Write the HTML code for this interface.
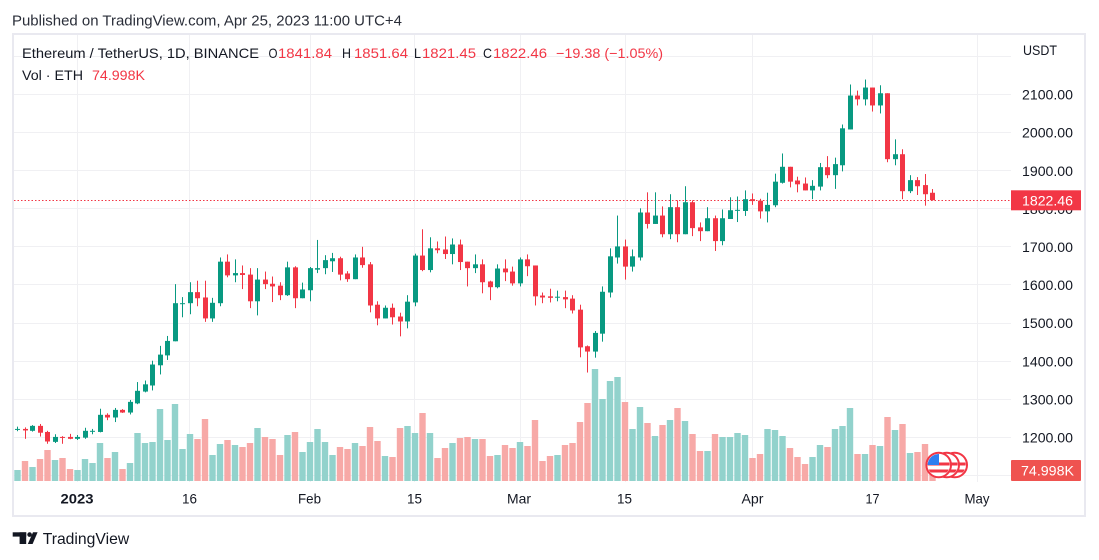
<!DOCTYPE html>
<html><head><meta charset="utf-8">
<style>
html,body{margin:0;padding:0;background:#fff;width:1099px;height:560px;overflow:hidden}
svg{display:block;font-family:"Liberation Sans",sans-serif}
</style></head>
<body>
<svg id="s" width="1099" height="560" viewBox="0 0 1099 560" xmlns="http://www.w3.org/2000/svg">
<defs>
  <clipPath id="pane"><rect x="14" y="35" width="997" height="447"/></clipPath>
  <clipPath id="fc1"><circle cx="954.7" cy="465" r="11"/></clipPath>
  <clipPath id="fc2"><circle cx="946.7" cy="465" r="11"/></clipPath>
  <clipPath id="fc3"><circle cx="938.7" cy="465" r="11"/></clipPath>
</defs>
<rect width="1099" height="560" fill="#fff"/>
<text x="12" y="25.5" font-size="15" fill="#2a2e39" textLength="390" lengthAdjust="spacingAndGlyphs">Published on TradingView.com, Apr 25, 2023 11:00 UTC+4</text>

<g id="grid" stroke="#f0f0f3" stroke-width="1" fill="none"></g>
<g id="vol" clip-path="url(#pane)"></g>
<line x1="14" y1="200.5" x2="1011" y2="200.5" stroke="#f23645" stroke-width="1" stroke-dasharray="1.5 2"/>
<g id="cdl" clip-path="url(#pane)"></g>

<!-- legend -->
<g font-size="14">
  <text x="22" y="58" fill="#131722" textLength="237" lengthAdjust="spacingAndGlyphs">Ethereum / TetherUS, 1D, BINANCE</text>
  <text x="268.5" y="58" fill="#131722" textLength="9" lengthAdjust="spacingAndGlyphs">O</text>
  <text x="278" y="58" fill="#f23645" textLength="54" lengthAdjust="spacingAndGlyphs">1841.84</text>
  <text x="342" y="58" fill="#131722" textLength="9" lengthAdjust="spacingAndGlyphs">H</text>
  <text x="354" y="58" fill="#f23645" textLength="54" lengthAdjust="spacingAndGlyphs">1851.64</text>
  <text x="414" y="58" fill="#131722" textLength="7" lengthAdjust="spacingAndGlyphs">L</text>
  <text x="422" y="58" fill="#f23645" textLength="54" lengthAdjust="spacingAndGlyphs">1821.45</text>
  <text x="483" y="58" fill="#131722" textLength="9" lengthAdjust="spacingAndGlyphs">C</text>
  <text x="493" y="58" fill="#f23645" textLength="54" lengthAdjust="spacingAndGlyphs">1822.46</text>
  <text x="556" y="58" fill="#f23645" textLength="107" lengthAdjust="spacingAndGlyphs">−19.38 (−1.05%)</text>
  <text x="22" y="80" fill="#131722" textLength="61" lengthAdjust="spacingAndGlyphs">Vol · ETH</text>
  <text x="92" y="80" fill="#f23645" textLength="53" lengthAdjust="spacingAndGlyphs">74.998K</text>
</g>

<!-- price axis -->
<g font-size="14" fill="#131722">
  <text x="1023" y="55" textLength="34" lengthAdjust="spacingAndGlyphs">USDT</text>
  <text x="1022" y="99.5" textLength="51" lengthAdjust="spacingAndGlyphs">2100.00</text>
  <text x="1022" y="137.5" textLength="51" lengthAdjust="spacingAndGlyphs">2000.00</text>
  <text x="1022" y="175.8" textLength="51" lengthAdjust="spacingAndGlyphs">1900.00</text>
  <text x="1022" y="214" textLength="51" lengthAdjust="spacingAndGlyphs">1800.00</text>
  <text x="1022" y="252" textLength="51" lengthAdjust="spacingAndGlyphs">1700.00</text>
  <text x="1022" y="290" textLength="51" lengthAdjust="spacingAndGlyphs">1600.00</text>
  <text x="1022" y="328.2" textLength="51" lengthAdjust="spacingAndGlyphs">1500.00</text>
  <text x="1022" y="366.3" textLength="51" lengthAdjust="spacingAndGlyphs">1400.00</text>
  <text x="1022" y="404.4" textLength="51" lengthAdjust="spacingAndGlyphs">1300.00</text>
  <text x="1022" y="442.5" textLength="51" lengthAdjust="spacingAndGlyphs">1200.00</text>
</g>
<rect x="1011" y="190.3" width="70" height="20" fill="#f23645"/>
<text x="1022" y="205.5" font-size="14" fill="#fff" textLength="51" lengthAdjust="spacingAndGlyphs">1822.46</text>
<rect x="1011" y="460" width="70" height="21" rx="1" fill="#ef5350"/>
<text x="1021" y="475.5" font-size="14" fill="#fff" textLength="53" lengthAdjust="spacingAndGlyphs">74.998K</text>

<!-- time axis -->
<g font-size="14" fill="#131722" text-anchor="middle">
  <text x="77" y="503.3" font-weight="bold" textLength="33" lengthAdjust="spacingAndGlyphs">2023</text>
  <text x="189.5" y="503.3" textLength="15" lengthAdjust="spacingAndGlyphs">16</text>
  <text x="309.5" y="503.3" textLength="23" lengthAdjust="spacingAndGlyphs">Feb</text>
  <text x="414.5" y="503.3" textLength="15" lengthAdjust="spacingAndGlyphs">15</text>
  <text x="519" y="503.3" textLength="24" lengthAdjust="spacingAndGlyphs">Mar</text>
  <text x="624.5" y="503.3" textLength="15" lengthAdjust="spacingAndGlyphs">15</text>
  <text x="752.5" y="503.3" textLength="22" lengthAdjust="spacingAndGlyphs">Apr</text>
  <text x="872.5" y="503.3" textLength="14" lengthAdjust="spacingAndGlyphs">17</text>
  <text x="977" y="503.3" textLength="25" lengthAdjust="spacingAndGlyphs">May</text>
</g>

<!-- flags -->
<g id="flags">
  <circle cx="954.7" cy="465" r="12.3" fill="#fff" stroke="#f23645" stroke-width="2"/>
  <g clip-path="url(#fc1)" fill="#f23645"><rect x="940" y="462.5" width="30" height="3"/><rect x="940" y="469.5" width="30" height="3"/></g>
  <circle cx="946.7" cy="465" r="12.3" fill="#fff" stroke="#f23645" stroke-width="2"/>
  <g clip-path="url(#fc2)" fill="#f23645"><rect x="932" y="462.5" width="30" height="3"/><rect x="932" y="469.5" width="30" height="3"/></g>
  <circle cx="938.7" cy="465" r="12.3" fill="#fff" stroke="#f23645" stroke-width="2"/>
  <g clip-path="url(#fc3)">
    <rect x="924" y="462.5" width="30" height="3" fill="#f23645"/>
    <rect x="924" y="469.5" width="30" height="3" fill="#f23645"/>
    <rect x="926" y="453" width="13" height="12" fill="#2f7ff0"/>
  </g>
</g>

<!-- frame -->
<rect x="13" y="34" width="1072" height="482" fill="none" stroke="#e9e9f0" stroke-width="2"/>

<!-- TradingView logo -->
<g fill="#131722">
  <rect x="12.7" y="532.3" width="13.5" height="4.3"/>
  <rect x="19.6" y="532.3" width="6.6" height="11.7"/>
  <circle cx="29.6" cy="534.6" r="2.3"/>
  <polygon points="33,532.3 37.6,532.3 32.6,544 27.8,544"/>
</g>
<text x="42.7" y="544" font-size="16" fill="#131722" textLength="86.5" lengthAdjust="spacingAndGlyphs">TradingView</text>
</svg>

<script>
(function(){
var NS="http://www.w3.org/2000/svg";
function el(n,a,p){var e=document.createElementNS(NS,n);for(var k in a)e.setAttribute(k,a[k]);p.appendChild(e);return e;}
function Y(p){return 246.8-(p-1700)*0.381;}
var grid=document.getElementById('grid');
for(var p=1100;p<=2200;p+=100){var y=Math.floor(Y(p))+0.5;el('line',{x1:14,y1:y,x2:1011,y2:y},grid);}
[77.5,189.5,310.5,414.5,520.5,625.5,752.5,872.5,977.5].forEach(function(x){el('line',{x1:x,y1:35,x2:x,y2:482},grid);});
var D=[
[1220,1228,1216,1222,470],[1222,1226,1196,1218,461],[1217,1232,1215,1230,467],[1230,1235,1202,1212,459],
[1214,1217,1183,1189,450],[1188,1208,1185,1201,460],[1201,1203,1183,1199,458],[1201,1209,1195,1196,469],
[1196,1206,1193,1201,470],[1199,1225,1196,1217,459],[1215,1222,1208,1217,463],[1214,1275,1213,1259,443],
[1259,1263,1245,1252,458],[1252,1277,1240,1272,452],[1272,1274,1264,1265,469],[1265,1298,1260,1293,463],
[1289,1345,1287,1322,433],[1320,1349,1318,1339,443],[1336,1401,1323,1391,442],[1389,1440,1365,1417,409],
[1415,1466,1403,1453,440],[1452,1602,1452,1552,404],[1550,1568,1515,1552,449],[1552,1607,1523,1581,434],
[1581,1611,1544,1565,439],[1567,1611,1503,1512,419],[1512,1566,1503,1553,455],[1552,1672,1544,1661,444],
[1661,1680,1620,1625,440],[1625,1667,1607,1631,445],[1631,1651,1589,1626,447],[1627,1644,1539,1557,443],
[1557,1644,1520,1614,428],[1614,1635,1589,1602,437],[1603,1622,1555,1596,439],[1598,1607,1560,1573,455],
[1573,1661,1571,1646,435],[1646,1649,1539,1565,432],[1565,1606,1565,1588,452],
[1586,1647,1557,1644,442],[1640,1718,1631,1644,429],[1644,1678,1628,1665,442],[1662,1684,1634,1670,455],
[1670,1674,1612,1627,447],[1630,1636,1608,1615,449],[1615,1680,1615,1672,443],[1672,1700,1645,1652,446],
[1654,1660,1528,1546,427],[1548,1557,1494,1512,441],[1512,1546,1512,1540,456],[1540,1551,1496,1515,457],
[1517,1527,1465,1504,428],[1504,1573,1486,1556,426],[1554,1682,1544,1677,433],[1677,1746,1636,1639,413],
[1639,1725,1633,1696,433],[1696,1714,1683,1691,458],[1693,1727,1668,1681,448],[1681,1722,1654,1706,443],
[1706,1719,1639,1660,438],[1661,1661,1596,1644,437],[1644,1680,1631,1654,439],[1654,1667,1578,1607,439],
[1609,1611,1560,1594,456],[1594,1654,1591,1643,455],[1643,1667,1610,1633,445],[1635,1648,1598,1604,448],
[1604,1672,1596,1667,442],[1667,1680,1623,1649,446],[1651,1651,1546,1570,420],[1572,1580,1552,1567,461],
[1570,1590,1554,1566,456],[1567,1585,1557,1569,455],[1568,1585,1539,1562,445],[1564,1573,1525,1533,443],
[1535,1548,1410,1436,422],[1439,1441,1370,1425,403],[1425,1479,1409,1474,369],[1472,1596,1451,1582,399],
[1580,1696,1567,1675,381],[1672,1782,1656,1701,377],[1701,1719,1614,1648,402],[1648,1693,1635,1675,429],
[1672,1801,1664,1790,407],[1790,1843,1748,1760,423],[1760,1843,1760,1782,436],[1782,1806,1725,1733,425],
[1733,1838,1720,1804,420],[1804,1822,1712,1733,408],[1733,1859,1733,1817,421],[1817,1822,1728,1749,434],
[1751,1764,1715,1741,451],[1741,1804,1741,1775,451],[1775,1782,1689,1715,434],[1715,1798,1704,1775,437],
[1773,1830,1773,1796,437],[1795,1832,1765,1797,433],[1794,1848,1781,1825,435],
[1825,1840,1810,1820,458],[1821,1826,1774,1793,454],[1793,1842,1764,1810,429],[1809,1892,1804,1871,430],
[1868,1945,1866,1910,436],[1910,1910,1856,1871,448],[1874,1884,1843,1864,457],[1866,1882,1848,1848,464],
[1848,1875,1825,1860,457],[1858,1920,1848,1909,445],[1909,1938,1880,1888,447],[1888,1934,1852,1917,429],
[1914,2021,1898,2011,426],[2008,2126,2008,2097,408],[2097,2110,2071,2087,454],[2087,2139,2071,2118,454],
[2118,2118,2055,2071,445],[2071,2124,2050,2103,446],[2103,2103,1922,1930,417],[1930,1982,1914,1943,430],
[1943,1956,1825,1846,424],[1846,1888,1841,1875,453],[1875,1883,1836,1859,452],[1862,1891,1808,1838,444],
[1841.84,1851.64,1821.45,1822.46,465]
];
var vol=document.getElementById('vol'),cdl=document.getElementById('cdl');
D.forEach(function(r,i){
  var d=i-8,x=77.5+7.5*d,o=r[0],h=r[1],l=r[2],c=r[3],v=r[4];
  var up=c>=o,col=up?'#089981':'#f23645',vc=up?'#92d2cc':'#f7a9a7';
  el('rect',{x:(x-3.2).toFixed(2),y:v,width:6.4,height:(481-v),fill:vc},vol);
  var fx=Math.floor(x);
  var yh=Y(h),yl=Y(l);
  el('rect',{x:fx,y:yh.toFixed(2),width:1,height:Math.max(1,yl-yh).toFixed(2),fill:col},cdl);
  var t=Y(Math.max(o,c)),b=Y(Math.min(o,c));
  el('rect',{x:fx-2,y:t.toFixed(2),width:5,height:Math.max(1,b-t).toFixed(2),fill:col},cdl);
});
})();
</script>
</body></html>
